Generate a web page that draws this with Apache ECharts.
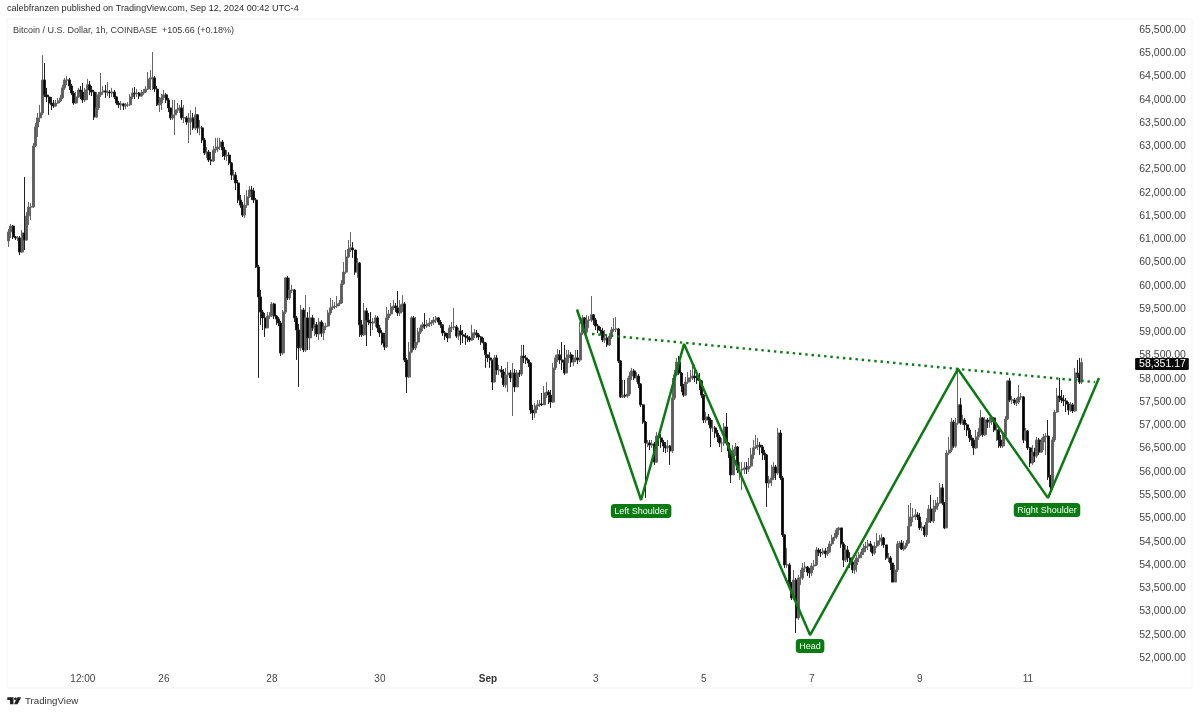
<!DOCTYPE html>
<html>
<head>
<meta charset="utf-8">
<style>html,body{margin:0;padding:0;background:#fff}#chart{width:1200px;height:714px}</style>
<script src="https://cdn.jsdelivr.net/npm/echarts@6/dist/echarts.min.js"></script>
</head>
<body>
<div id="chart"></div>
<script>
// BTC/USD hourly candles, starting Aug 23 2024 03:00
const opens = [60965,61155,61285,61050,61030,61030,60725,61135,60985,61500,
61695,61695,63005,63415,63610,63715,64425,64105,64060,63930,
63890,63865,63930,63975,64040,64255,64425,64425,64295,64145,
63930,64060,64210,64165,63995,64210,64320,64210,64165,63630,
63825,64105,64165,64190,64165,64165,64145,64165,64060,63930,
63890,63910,63865,63890,63890,64060,64145,64125,64145,64080,
64145,64165,64230,64445,64470,64470,64230,63890,63930,64040,
64105,63995,63825,63610,63675,63780,63780,63825,63610,63610,
63520,63520,63610,63395,63675,63395,63395,63135,62855,62875,
62705,62685,62920,62940,62985,63090,62920,62790,62810,62640,
62380,62380,62210,61845,61735,61520,61735,61910,62060,62040,
61845,60405,59760,59435,59310,59095,59350,59350,59610,59350,
59285,59200,58555,59435,60170,59740,59910,59910,59310,59050,
58665,59480,58620,59310,58880,59310,59095,59160,58965,59220,
58985,59115,59135,59415,59525,59545,59565,59610,59630,60040,
60295,60620,60790,60815,60770,60295,60490,59160,58945,59460,
59265,59220,59200,59220,59310,59095,58985,58770,58685,59310,
59395,59545,59565,59525,59415,59590,59610,58405,58040,58575,
59310,58665,58790,59005,59095,59160,59135,59180,59200,59220,
59265,59310,59220,59160,58985,58920,58880,59095,59115,59115,
58920,59030,58945,58920,58900,58880,58835,58985,58985,58945,
58900,58790,58770,58515,58450,58405,57930,58450,58190,58190,
58145,57870,58085,58125,58020,58125,57825,58125,58105,58490,
58450,58405,58340,57330,57265,57415,57440,57460,57440,57695,
57715,57650,57500,58235,58450,58515,58405,58360,58125,58450,
58515,58360,58405,58450,58405,58985,59310,59005,59265,59265,
59375,59265,59135,59050,59030,58835,58880,58730,58920,59050,
59070,59070,58385,57610,57650,57630,57675,58060,58170,58020,
58060,57890,57440,57070,56620,56620,56575,56600,56210,56770,
56730,56640,56555,56515,56555,56450,57590,58085,58360,58125,
57845,57650,57930,58020,58020,58060,58020,57975,57955,57650,
57115,57180,57115,56945,56945,56835,56750,56620,56620,56965,
56620,56450,55935,56470,56535,56040,56040,56060,56085,56060,
56125,56365,56515,56535,56575,56535,56405,56365,55760,55825,
55870,56105,55975,56835,55870,54645,54000,54000,53610,53290,
53675,52860,53720,53720,53935,53955,53845,53825,53975,54000,
54320,54275,54255,54300,54235,54275,54450,54580,54600,54750,
54795,54450,54105,54320,54150,54060,53890,54000,54150,54215,
54275,54365,54405,54450,54405,54255,54405,54515,54515,54580,
54430,54150,54150,54040,53630,53890,54450,54470,54340,54405,
54470,54835,55030,55050,55075,55030,54795,54815,54645,54920,
55200,54945,55200,55265,55330,55655,55330,54795,56405,56470,
57070,56555,57050,57440,57050,57115,57010,56900,56730,56685,
56515,56750,56855,57160,56795,57115,57070,57070,57160,56900,
56900,56685,56555,56770,57135,57955,57545,57545,57480,57500,
57610,57610,56685,56880,56515,56190,56425,56340,56685,56425,
56640,56750,56770,55890,55675,56685,57285,57630,57590,57545,
57525,57460,57330,57440,57310,58125,58105,57930];
const closes = [61155,61285,61050,61030,61030,60725,61135,60985,61500,61695,
61695,63005,63415,63610,63715,64425,64105,64060,63930,63890,
63865,63930,63975,64040,64255,64425,64425,64295,64145,63930,
64060,64210,64165,63995,64210,64320,64210,64165,63630,63825,
64105,64165,64190,64165,64165,64145,64165,64060,63930,63890,
63910,63865,63890,63890,64060,64145,64125,64145,64080,64145,
64165,64230,64445,64470,64470,64230,63890,63930,64040,64105,
63995,63825,63610,63675,63780,63780,63825,63610,63610,63520,
63520,63610,63395,63675,63395,63395,63135,62855,62875,62705,
62685,62920,62940,62985,63090,62920,62790,62810,62640,62380,
62380,62210,61845,61735,61520,61735,61910,62060,62040,61845,
60405,59760,59435,59310,59095,59350,59350,59610,59350,59285,
59200,58555,59435,60170,59740,59910,59910,59310,59050,58665,
59480,58620,59310,58880,59310,59095,59160,58965,59220,58985,
59115,59135,59415,59525,59545,59565,59610,59630,60040,60295,
60620,60790,60815,60770,60295,60490,59160,58945,59460,59265,
59220,59200,59220,59310,59095,58985,58770,58685,59310,59395,
59545,59565,59525,59415,59590,59610,58405,58040,58575,59310,
58665,58790,59005,59095,59160,59135,59180,59200,59220,59265,
59310,59220,59160,58985,58920,58880,59095,59115,59115,58920,
59030,58945,58920,58900,58880,58835,58985,58985,58945,58900,
58790,58770,58515,58450,58405,57930,58450,58190,58190,58145,
57870,58085,58125,58020,58125,57825,58125,58105,58490,58450,
58405,58340,57330,57265,57415,57440,57460,57440,57695,57715,
57650,57500,58235,58450,58515,58405,58360,58125,58450,58515,
58360,58405,58450,58405,58985,59310,59005,59265,59265,59375,
59265,59135,59050,59030,58835,58880,58730,58920,59050,59070,
59070,58385,57610,57650,57630,57675,58060,58170,58020,58060,
57890,57440,57070,56620,56620,56575,56600,56210,56770,56730,
56640,56555,56515,56555,56450,57590,58085,58360,58125,57845,
57650,57930,58020,58020,58060,58020,57975,57955,57650,57115,
57180,57115,56945,56945,56835,56750,56620,56620,56965,56620,
56450,55935,56470,56535,56040,56040,56060,56085,56060,56125,
56365,56515,56535,56575,56535,56405,56365,55760,55825,55870,
56105,55975,56835,55870,54645,54000,54000,53610,53290,53675,
52860,53720,53720,53935,53955,53845,53825,53975,54000,54320,
54275,54255,54300,54235,54275,54450,54580,54600,54750,54795,
54450,54105,54320,54150,54060,53890,54000,54150,54215,54275,
54365,54405,54450,54405,54255,54405,54515,54515,54580,54430,
54150,54150,54040,53630,53890,54450,54470,54340,54405,54470,
54835,55030,55050,55075,55030,54795,54815,54645,54920,55200,
54945,55200,55265,55330,55655,55330,54795,56405,56470,57070,
56555,57050,57440,57050,57115,57010,56900,56730,56685,56515,
56750,56855,57160,56795,57115,57070,57070,57160,56900,56900,
56685,56555,56770,57135,57955,57545,57545,57480,57500,57610,
57610,56685,56880,56515,56190,56425,56340,56685,56425,56640,
56750,56770,55890,55675,56685,57285,57630,57590,57545,57525,
57460,57330,57440,57310,58125,58105,57930,58351.17];
const highs = [61220,61330,61310,61070,61070,61070,61200,62340,61585,61800,
61780,63070,63500,63715,63890,64960,64790,64255,64105,64060,
63995,63995,64040,64105,64320,64470,64510,64470,64340,64190,
64165,64255,64295,64360,64255,64445,64405,64295,64210,64165,
64165,64575,64295,64320,64380,64210,64255,64210,64080,63975,
63975,63930,63930,63950,64125,64255,64275,64230,64165,64210,
64230,64295,64595,64640,65025,64510,64295,64060,64125,64210,
64145,64040,63825,63995,63995,63930,63890,63995,63890,63650,
63715,63780,63715,63845,63695,63565,63435,63180,62985,62920,
62875,63005,63180,63180,63180,63135,62985,62920,62875,62660,
62490,62445,62275,61950,61800,61950,62060,62145,62145,62105,
61890,60450,59910,59480,59415,59435,59435,59650,59630,59370,
59330,59245,59480,60190,60210,60170,60020,59930,59350,59180,
59590,59525,59800,59435,59545,59370,59310,59220,59310,59265,
59200,59200,59480,59740,59695,59650,59780,59695,60125,60510,
60770,60985,61155,60940,60770,60600,60510,59265,59630,59525,
59415,59435,59310,59370,59350,59160,59050,58985,59545,59480,
59630,59695,59630,59890,59695,59800,59650,58450,58790,59350,
59350,59330,59095,59160,59220,59415,59265,59310,59265,59330,
59350,59330,59265,59135,59030,58985,59160,59220,59525,59160,
59095,59160,59050,58985,58945,58920,59160,59070,59050,58985,
58920,58880,58790,58515,58575,58405,58515,58515,58295,58275,
58210,58235,58360,58190,58340,58210,58190,58190,58730,58730,
58515,58425,58360,57440,57480,57545,57545,57695,57845,57930,
57760,57760,58340,58515,58640,58620,58790,58730,58620,58620,
58575,58515,58620,58620,59220,59370,59330,59370,59350,59780,
59395,59310,59180,59115,59095,59050,58945,58985,59115,59310,
59330,59095,58405,57975,57975,58020,58145,58235,58210,58145,
58105,57910,57460,57095,56685,56685,56685,56640,56855,56835,
56815,56685,56640,56685,56575,58020,58190,58450,58490,58145,
57890,58040,58145,58190,58340,58295,58190,58125,57975,57675,
57285,57245,57160,57115,56985,56900,56795,56730,57050,57265,
56640,56490,56575,56620,56555,56210,56210,56210,56210,56300,
56515,56685,56795,56730,56640,56575,56470,56385,55910,56150,
56210,56150,56945,56900,55910,54665,54365,54040,53630,53890,
53720,53785,53890,54040,54060,53975,53935,54040,54105,54385,
54365,54340,54365,54365,54385,54515,54645,54685,54795,54815,
54795,54490,54430,54405,54275,54150,54105,54215,54275,54340,
54450,54490,54535,54515,54405,54490,54685,54645,54665,54600,
54430,54255,54190,54040,54000,54515,54515,54535,54515,54535,
55290,55330,55225,55200,55135,55115,54920,54860,55010,55290,
55505,55395,55395,55460,55760,55740,55350,56470,56750,57160,
57115,57160,58210,57590,57225,57160,57050,56945,56795,56730,
56900,56945,57330,57180,57180,57160,57180,57200,57180,57010,
56920,56795,56855,57200,57975,58020,57630,57590,57590,57870,
57695,57630,56945,56900,56535,56575,56515,56750,56730,56730,
56815,56835,57115,55935,56750,57330,57805,58020,57760,57650,
57590,57500,57500,57480,58235,58405,58450,58450];
const lows = [60835,61030,61005,60985,60965,60660,60705,60770,60965,61310,
61415,61675,62985,63200,63520,63675,64060,63950,63675,63780,
63825,63845,63910,63950,64015,64210,64320,64210,64105,63890,
63910,64040,64015,63930,63950,63995,64105,64080,63565,63610,
63780,64060,64105,64040,64080,64040,64060,64015,63890,63825,
63780,63780,63800,63845,63865,64015,64015,64060,64015,64060,
64105,64145,64210,64210,64210,64165,63865,63735,63780,63995,
63930,63735,63565,63565,63240,63715,63715,63565,63500,63460,
63070,63240,63350,63350,63285,63240,63070,62810,62750,62660,
62595,62660,62855,62875,62920,62770,62705,62685,62595,62275,
62275,62060,61780,61675,61480,61460,61675,61890,61845,61780,
60385,58020,59160,59050,58900,59095,59285,59330,59285,59160,
59135,58490,58515,59395,59695,59695,59845,59220,58405,57825,
58600,58575,58575,58620,58620,59030,58920,58900,58835,58900,
58835,59050,59115,59370,59480,59500,59525,59565,59610,60020,
60255,60600,60725,60600,60235,60170,58900,58900,58920,58705,
59160,58920,59050,59115,59005,58900,58730,58620,58665,59265,
59350,59480,59435,59350,59350,59435,58360,57695,58020,58555,
58620,58620,58730,58965,59030,59070,59095,59115,59135,59160,
59200,59160,59095,58920,58835,58790,58880,59005,59050,58880,
58835,58730,58770,58730,58790,58790,58815,58880,58880,58835,
58730,58620,58235,58360,58235,57760,57930,58085,58085,58020,
57825,57805,57715,57930,57200,57715,57870,58040,58060,58340,
58320,58255,57245,57115,57160,57330,57395,57415,57440,57590,
57460,57375,57480,58190,58360,58320,58190,58085,58125,58340,
58255,58275,58360,58320,58360,58945,58945,58965,59095,59220,
59160,59050,58985,58945,58790,58770,58685,58705,58855,59005,
59005,58340,57590,57590,57590,57590,57630,57975,57975,57930,
57805,57395,57030,55440,56535,56470,56515,56150,56190,56555,
56515,56425,56405,56425,56150,56405,57545,58060,58085,57715,
57610,57630,57890,57930,57975,57930,57890,57760,57590,57050,
57050,57010,56535,56855,56730,56640,56535,56425,56555,56575,
56300,55760,55935,56340,55975,55825,55610,55955,55955,55995,
56085,56275,56490,56470,56365,56255,56255,55245,55655,55695,
55825,55825,55935,55825,54600,53935,53935,53570,53245,53245,
52535,52815,53570,53675,53845,53760,53720,53760,53890,53975,
54190,54170,54215,54150,54190,54255,54405,54515,54555,54645,
54365,53955,54060,54060,53935,53825,53805,53845,54060,54150,
54215,54275,54320,54275,54190,54215,54365,54430,54405,54365,
54105,54060,53890,53630,53630,53845,54365,54320,54300,54365,
54450,54835,54920,54965,54965,54750,54730,54600,54600,54900,
54900,54900,55135,55180,55310,55290,54770,54815,56365,56425,
56515,56515,57010,57010,57010,56900,56770,56640,56555,56365,
56490,56685,56770,56750,56770,56945,56945,57010,56855,56665,
56515,56515,56515,56750,57115,57500,57460,57440,57415,57460,
57545,56620,56665,56470,56105,56150,56210,56300,56365,56405,
56470,56365,55825,55505,55610,56640,57265,57500,57480,57415,
57285,57225,57285,57265,57285,58020,57890,57890];

// Price axis labels
const priceTicks = [65500,65000,64500,64000,63500,63000,62500,62000,61500,61000,60500,60000,59500,59000,58500,58000,57500,57000,56500,56000,55500,55000,54500,54000,53500,53000,52500,52000];

// Time axis labels, keyed by hour index
const timeTickHours = [33,69,117,165,213,261,309,357,405,453];
const timeTickLabels = ['12:00','26','28','30','Sep','3','5','7','9','11'];

// Hand-drawn inverse head and shoulders, as [hour index, price]
const patternLine = [[252.6,59490],[281.1,55395],[300.2,58750],[356.2,52490],[421.9,58210],[461.9,55440],[484.6,58020]];
const necklineLine = [[259.3,58965],[482.8,57930]];
const patternNotes = [
  {name:'Left Shoulder', value:[281.1,55395]},
  {name:'Head', value:[356.2,52490]},
  {name:'Right Shoulder', value:[461.5,55440], label:{distance:5}}
];
const lastPrice = 58351.17;
const lastPriceText = '58,351.17';

const SLOTS = 499;
const categories = [];
for (let i = 0; i < SLOTS; i++) categories.push('h' + i);
const candles = closes.map((c, i) => [opens[i], c, lows[i], highs[i]]);

const FONT = '"Liberation Sans", Arial, sans-serif';
const GREEN = '#0c7a12';

const chart = echarts.init(document.getElementById('chart'), null, {renderer: 'canvas'});
chart.setOption({
  animation: false,
  backgroundColor: '#ffffff',
  title: [
    {text: 'calebfranzen published on TradingView.com, Sep 12, 2024 00:42 UTC-4', left: 7, top: 4, padding: 0,
     textStyle: {fontFamily: FONT, fontSize: 9.1, fontWeight: 'normal', color: '#2b2b2b'}},
    {text: 'Bitcoin / U.S. Dollar, 1h, COINBASE  +105.66 (+0.18%)', left: 13, top: 26, padding: 0,
     textStyle: {fontFamily: FONT, fontSize: 9, fontWeight: 'normal', color: '#3a3a3a'}},
    {text: 'TradingView', left: 25, top: 696, padding: 0,
     textStyle: {fontFamily: FONT, fontSize: 9.7, fontWeight: 'normal', color: '#333333'}}
  ],
  grid: {left: 7.5, top: 19, width: 1122.75, height: 669},
  xAxis: [
    {type: 'category', data: categories, boundaryGap: true,
     axisLine: {show: false}, axisTick: {show: false}, splitLine: {show: false},
     axisLabel: {
       inside: true, margin: 4, color: '#444', fontFamily: FONT, fontSize: 10,
       interval: (idx) => timeTickHours.includes(idx),
       formatter: (v, idx) => {
         const k = timeTickHours.indexOf(idx);
         if (k < 0) return '';
         return timeTickLabels[k] === 'Sep' ? '{b|Sep}' : timeTickLabels[k];
       },
       rich: {b: {fontWeight: 'bold', fontFamily: FONT, fontSize: 10, color: '#333'}}
     }},
    {type: 'value', min: -0.5, max: 498.5, show: false, splitLine: {show: false}}
  ],
  yAxis: {
    type: 'value', position: 'right', min: 51353, max: 65736, scale: true,
    axisLine: {show: false}, axisTick: {show: false}, splitLine: {show: false},
    axisLabel: {
      customValues: priceTicks, margin: 9, color: '#444', fontFamily: FONT, fontSize: 10.5,
      padding: [2, 0, 0, 0],
      formatter: (v) => v.toLocaleString('en-US', {minimumFractionDigits: 2, maximumFractionDigits: 2})
    }
  },
  series: [
    {type: 'candlestick', data: candles, xAxisIndex: 0, yAxisIndex: 0, barWidth: 2.4,
     itemStyle: {color: '#5c5c5c', borderColor: '#666666', color0: '#000000', borderColor0: '#222222', borderWidth: 1}},
    {type: 'line', data: patternLine, xAxisIndex: 1, yAxisIndex: 0, symbol: 'none', silent: true,
     lineStyle: {color: GREEN, width: 2.5}, z: 5},
    {type: 'line', data: necklineLine, xAxisIndex: 1, yAxisIndex: 0, symbol: 'none', silent: true,
     lineStyle: {color: GREEN, width: 2.4, type: [2.4, 3.9]}, z: 5},
    {type: 'scatter', data: patternNotes, xAxisIndex: 1, yAxisIndex: 0, symbolSize: 0, silent: true, z: 6,
     itemStyle: {opacity: 1},
     label: {show: true, position: 'bottom', distance: 4, formatter: '{b}', color: '#f4fff4', opacity: 1,
             fontFamily: FONT, fontSize: 9, backgroundColor: GREEN, borderRadius: 3.5, padding: [3, 3.5, 2, 3.5]}},
    {type: 'scatter', data: [{value: [512.6, lastPrice]}], xAxisIndex: 1, yAxisIndex: 0, symbolSize: 0,
     silent: true, clip: false, z: 7, itemStyle: {opacity: 1},
     label: {show: true, position: 'inside', offset: [0, 1.5], formatter: lastPriceText, color: '#ffffff', opacity: 1,
             fontFamily: FONT, fontSize: 10.5, backgroundColor: '#0a0a0a', borderRadius: 1, padding: [1, 3, 0, 4]}}
  ],
  graphic: [
    {type: 'rect', silent: true, z: -1, shape: {x: 7, y: 19, width: 1185, height: 669},
     style: {fill: 'none', stroke: '#f3f3f3', lineWidth: 1}},
    // TradingView mark
    {type: 'polygon', silent: true, shape: {points: [[7.3,697.2],[13.5,697.2],[13.5,704.2],[10,704.2],[10,700],[7.3,700]]}, style: {fill: '#222'}},
    {type: 'circle', silent: true, shape: {cx: 15.4, cy: 698.8, r: 1.4}, style: {fill: '#222'}},
    {type: 'polygon', silent: true, shape: {points: [[17.4,697.2],[21.2,697.2],[17.6,704.2],[14,704.2]]}, style: {fill: '#222'}}
  ]
});
</script>
</body>
</html>
